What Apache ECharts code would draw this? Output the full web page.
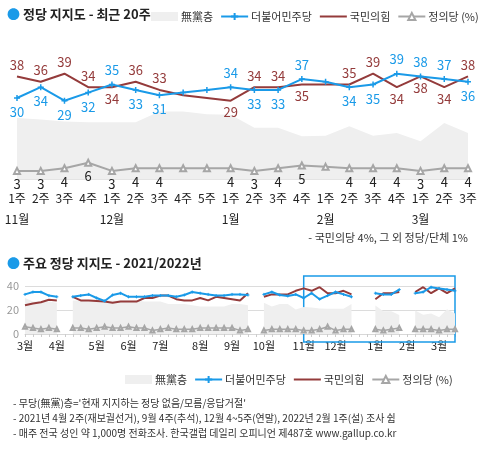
<!DOCTYPE html>
<html><head><meta charset="utf-8">
<script src="https://cdn.jsdelivr.net/npm/echarts@6/dist/echarts.min.js"></script>
<style>html,body{margin:0;padding:0;background:#fff}#c{width:483px;height:454px}</style>
</head><body><div id="c"></div>
<script>
// ---- recent 20 weeks ----
const weekLabels = ['1주','2주','3주','4주','1주','2주','3주','4주','5주','1주','2주','3주','4주','1주','2주','3주','4주','1주','2주','3주'];
const monthLabels = ['11월','','','','12월','','','','','1월','','','','2월','','','','3월','',''];
const dem20 = [30,34,29,32,35,33,31,32,33,34,33,33,37,36,34,35,39,38,37,36];
const ppp20 = [38,36,39,34,34,36,33,31,30,29,34,34,35,35,35,39,34,38,34,38];
const jus20 = [3,3,4,6,3,4,4,4,4,4,3,4,5,4.5,4,4,4,3,4,4];
const none20 = [22.6,22,21.3,21,21,21,25,25,24,23.8,19,19,15.8,16,19.5,16,17,14,20.7,17];
const noSurvey20 = [7,8,13];
// ---- 2021/2022 yearly (first 35 weeks, 2021 Mar wk1 ~ Oct wk5) ----
const yearMonthLabels = {0:'3월',4:'4월',9:'5월',13:'6월',17:'7월',22:'8월',26:'9월',30:'10월',35:'11월',39:'12월',44:'1월',48:'2월',52:'3월'};
const demY = [33,35,35,32,31,null,31,32,33,30,27.5,32.5,34,31,31,31,32,32,32,31,32.5,35,34,33,32,32,33,33,32.5,null,33,35,32.5,31.7,33];
const pppY = [24,25.5,26.5,28.5,28,null,31,28,28,27.5,27,26,27,27,27,30,30,32,32,29,28,28,30,28,31,30,29,28,34,null,31,33,33,33,36];
const jusY = [6,5,4,5,4,null,5,5,4,5,6,5,5,6,5,5,3,4,5,4,4,4,5,5,5,5,5,3,4,null,3,4,4,4,4];
const noneY = [30,27,27,27,26,null,28,28,28,28,28,28,28,28,28,27,27,27,25,25,25,24,23,23,23,23,25,25,24,null,26,23,25,25,20.5];

const C_DEM='#1a9ae8', C_PPP='#943b3b', C_JUS='#a6a6a6', C_NONE='#efefef';
const F='"Noto Sans CJK KR","Noto Sans",sans-serif';

const demPos = ['bottom','bottom','bottom','bottom','top','bottom','bottom','top','top','top','bottom','bottom','top','top','bottom','bottom','top','top','top','bottom'];
const pppPos = ['top','top','top','top','bottom','top','top','bottom','bottom','bottom','top','top','bottom','top','top','top','bottom','bottom','bottom','top'];

function items(vals,pos,color){
  return vals.map((v,i)=>({value:v,label:{show:!noSurvey20.includes(i),position:pos?pos[i]:'bottom',color:color}}));
}
const toYear = arr => arr.map((v,i)=>noSurvey20.includes(i)?null:v);
const categoriesY = Array.from({length:55},(_,i)=>i);
const demAll = demY.concat(toYear(dem20));
const pppAll = pppY.concat(toYear(ppp20));
const jusAll = jusY.concat(toYear(jus20));
const noneAll = noneY.concat(toYear(none20));

const plus = 'path://M0,5L10,5M5,0L5,10';
const chart = echarts.init(document.getElementById('c'));
const lbl = {fontFamily:F,fontSize:13};
const legendData = [{name:'無黨층',icon:'rect'},'더불어민주당',{name:'국민의힘',itemStyle:{opacity:0}},'정의당 (%)'];
const legendBase = {itemGap:7,itemWidth:27,itemHeight:9,width:340,textStyle:{fontFamily:F,fontSize:11,color:'#333',padding:[0,0,0,-2]},data:legendData};
chart.setOption({
  animation:false,
  textStyle:{fontFamily:F},
  title:[
    {text:'{d|●} 정당 지지도 - 최근 20주',left:2,top:3,textStyle:{fontFamily:F,fontSize:13,fontWeight:'bold',color:'#222',rich:{d:{color:C_DEM,fontSize:13}}}},
    {text:'{d|●} 주요 정당 지지도 - 2021/2022년',left:2,top:252,textStyle:{fontFamily:F,fontSize:13,fontWeight:'bold',color:'#222',rich:{d:{color:C_DEM,fontSize:13}}}},
    {text:'- 국민의당 4%, 그 외 정당/단체 1%',right:10,top:227,textStyle:{fontFamily:F,fontSize:11,fontWeight:'normal',color:'#333'}},
    {text:"- 무당(無黨)층='현재 지지하는 정당 없음/모름/응답거절'\n- 2021년 4월 2주(재보궐선거), 9월 4주(추석), 12월 4~5주(연말), 2022년 2월 1주(설) 조사 쉼\n- 매주 전국 성인 약 1,000명 전화조사. 한국갤럽 데일리 오피니언 제487호 www.gallup.co.kr",
     left:8,top:391,textStyle:{fontFamily:F,fontSize:10,fontWeight:'normal',color:'#333',lineHeight:15}}
  ],
  legend:[
    Object.assign({top:6,left:146},legendBase),
    Object.assign({top:369,left:120},legendBase)
  ],
  grid:[
    {left:17,right:15,top:44,height:135},
    {left:25,right:28,top:286,height:48},
    {left:25,right:28,top:276,height:66}
  ],
  xAxis:[
    {gridIndex:0,type:'category',data:weekLabels,boundaryGap:false,axisLine:{lineStyle:{color:'#e4e4e4'}},axisTick:{show:false},
     axisLabel:{interval:0,margin:13,color:'#222',fontFamily:F,fontSize:12}},
    {gridIndex:0,type:'category',data:monthLabels,boundaryGap:false,position:'bottom',offset:26,axisLine:{show:false},axisTick:{show:false},
     axisLabel:{interval:0,color:'#222',fontFamily:F,fontSize:12}},
    {gridIndex:1,type:'category',data:categoriesY,boundaryGap:false,axisLine:{lineStyle:{color:'#d8d8d8'}},
     axisTick:{show:true,interval:0,length:3,lineStyle:{color:'#ccc'}},
     axisLabel:{interval:0,margin:6,color:'#222',fontFamily:F,fontSize:11,formatter:v=>yearMonthLabels[v]||''}},
    {gridIndex:2,type:'category',data:categoriesY,boundaryGap:false,show:false}
  ],
  yAxis:[
    {gridIndex:0,type:'value',min:0,max:50,show:false},
    {gridIndex:1,type:'value',min:0,max:40,interval:20,axisLine:{show:false},axisTick:{show:false},
     splitLine:{lineStyle:{color:'#dcdcdc'}},axisLabel:{color:'#999',fontSize:11,margin:6}},
    {gridIndex:2,type:'value',min:0,max:1,show:false}
  ],
  series:[
    {name:'無黨층',type:'line',xAxisIndex:0,yAxisIndex:0,data:none20,symbol:'none',lineStyle:{width:0},areaStyle:{color:C_NONE,opacity:1},itemStyle:{color:C_NONE},z:1},
    {name:'정의당 (%)',type:'line',xAxisIndex:0,yAxisIndex:0,data:items(jus20,null,'#222'),symbol:'emptyTriangle',symbolSize:6,
     lineStyle:{color:C_JUS,width:2},itemStyle:{color:C_JUS,borderColor:C_JUS},label:Object.assign({distance:3},lbl),z:3},
    {name:'국민의힘',type:'line',xAxisIndex:0,yAxisIndex:0,data:items(ppp20,pppPos,C_PPP),symbol:'circle',symbolSize:0.1,showAllSymbol:true,
     lineStyle:{color:C_PPP,width:2},itemStyle:{color:C_PPP},label:Object.assign({distance:5},lbl),z:4},
    {name:'더불어민주당',type:'line',xAxisIndex:0,yAxisIndex:0,data:items(dem20,demPos,C_DEM),symbol:plus,symbolSize:6,showAllSymbol:true,
     lineStyle:{color:C_DEM,width:2},itemStyle:{color:C_DEM,borderColor:C_DEM,borderWidth:1.5},label:Object.assign({distance:4},lbl),z:5},

    {name:'無黨층',type:'line',xAxisIndex:2,yAxisIndex:1,data:noneAll,symbol:'none',lineStyle:{width:0},areaStyle:{color:C_NONE,opacity:1},itemStyle:{color:C_NONE},z:1},
    {name:'정의당 (%)',type:'line',xAxisIndex:2,yAxisIndex:1,data:jusAll,symbol:'emptyTriangle',symbolSize:4,showAllSymbol:true,
     lineStyle:{color:C_JUS,width:1.5},itemStyle:{color:C_JUS,borderColor:C_JUS},z:3},
    {name:'국민의힘',type:'line',xAxisIndex:2,yAxisIndex:1,data:pppAll,symbol:'none',lineStyle:{color:C_PPP,width:2},itemStyle:{color:C_PPP},z:4},
    {name:'더불어민주당',type:'line',xAxisIndex:2,yAxisIndex:1,data:demAll,symbol:plus,symbolSize:3,showAllSymbol:true,
     lineStyle:{color:C_DEM,width:2},itemStyle:{color:C_DEM,borderColor:C_DEM,borderWidth:1},z:5},
    {name:'highlight',type:'line',xAxisIndex:3,yAxisIndex:2,data:[],symbol:'none',z:6,
     markArea:{silent:true,itemStyle:{color:'rgba(0,0,0,0)',borderColor:C_DEM,borderWidth:1.5},
       data:[[{xAxis:35,yAxis:1},{xAxis:54,yAxis:0}]]}}
  ]
});
</script></body></html>
